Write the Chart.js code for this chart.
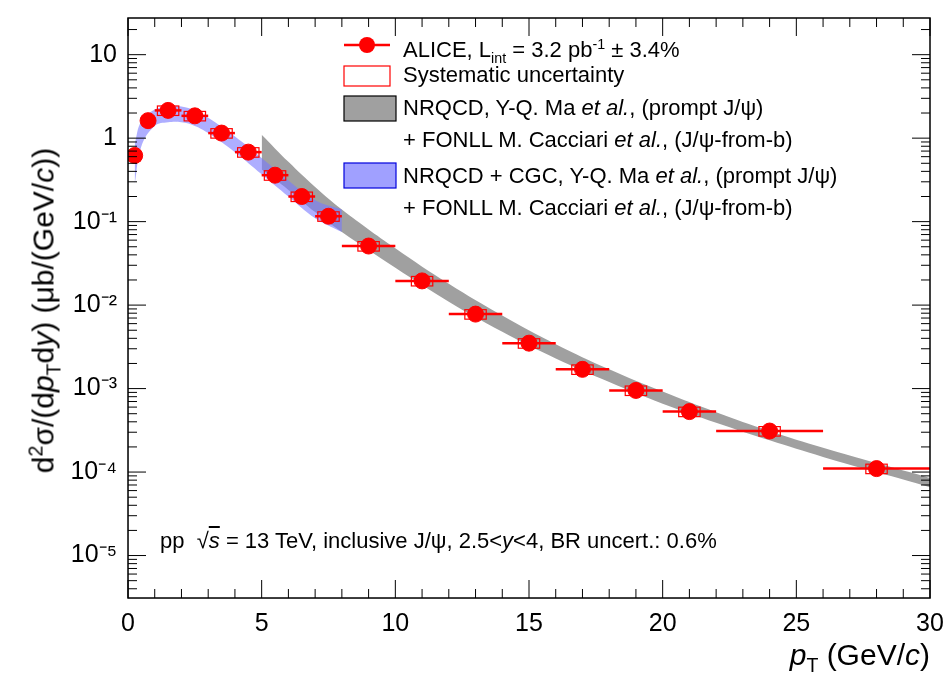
<!DOCTYPE html>
<html><head><meta charset="utf-8">
<script src="https://cdn.jsdelivr.net/npm/chart.js@4"></script>
<style>
body{margin:0;background:#fff;font-family:"Liberation Sans",Arial,sans-serif;}
#wrap{position:relative;width:950px;height:689px;}
.t{position:absolute;white-space:nowrap;color:#000;}
.lg{position:absolute;left:403px;font-size:22px;white-space:nowrap;line-height:26px;}
sub,sup{font-size:65%;}
</style></head><body>
<div id="wrap"><canvas id="c" width="950" height="689"></canvas>
<div class="lg" style="top:31px">ALICE, L<sub>int</sub> = 3.2 pb<sup>-1</sup> ± 3.4%</div>
<div class="lg" style="top:62px">Systematic uncertainty</div>
<div class="lg" style="top:95px">NRQCD, Y-Q. Ma <i>et al.</i>, (prompt J/ψ)</div>
<div class="lg" style="top:127px">+ FONLL M. Cacciari <i>et al.</i>, (J/ψ-from-b)</div>
<div class="lg" style="top:163px">NRQCD + CGC, Y-Q. Ma <i>et al.</i>, (prompt J/ψ)</div>
<div class="lg" style="top:195px">+ FONLL M. Cacciari <i>et al.</i>, (J/ψ-from-b)</div>
<div class="t" style="left:160px;top:528px;font-size:22px">pp &nbsp;√<span style="text-decoration:overline"><i>s</i></span> = 13 TeV, inclusive J/ψ, 2.5&lt;<i>y</i>&lt;4, BR uncert.: 0.6%</div>
<div class="t" style="right:20px;top:638px;font-size:30px"><i>p</i><sub>T</sub> (GeV/<i>c</i>)</div>
<div class="t" style="left:-165px;top:290px;font-size:30px;transform:rotate(-90deg);width:420px;text-align:center">d<sup>2</sup>σ/(d<i>p</i><sub>T</sub>d<i>y</i>) (μb/(GeV/<i>c</i>))</div>
</div>
<script>
const ptLow  = [0,0.5,1,2,3,4,5,6,7,8,10,12,14,16,18,20,22,26];
const ptHigh = [0.5,1,2,3,4,5,6,7,8,10,12,14,16,18,20,22,26,30];
const ptMid  = [0.25,0.75,1.5,2.5,3.5,4.5,5.5,6.5,7.5,9,11,13,15,17,19,21,24,28];
const xsec   = [0.62,1.62,2.15,1.85,1.15,0.68,0.36,0.20,0.116,0.051,0.0195,0.0078,0.0035,0.0017,0.00095,0.00053,0.00031,0.00011];
const sysRel = [0.14,0.13,0.13,0.13,0.13,0.13,0.13,0.13,0.13,0.13,0.13,0.13,0.13,0.13,0.13,0.13,0.13,0.13];
const nrqcdX  = [5,6,7,8,10,12,14,16,18,20,22,24,26,28,30];
const nrqcdLo = [0.42,0.24,0.13,0.075,0.028,0.011,0.0048,0.0023,0.0012,0.00066,0.00039,0.00024,0.000152,0.0001,0.000066];
const nrqcdHi = [1.1,0.52,0.26,0.14,0.048,0.018,0.0075,0.0034,0.0017,0.00092,0.00052,0.00031,0.000195,0.000128,0.000085];
const cgcX  = [0.25,0.5,1,1.5,2,2.5,3,4,5,6,7,8];
const cgcLo = [0.28,0.8,1.4,1.55,1.55,1.4,1.15,0.68,0.37,0.2,0.11,0.075];
const cgcHi = [0.85,1.6,2.2,2.4,2.4,2.15,1.75,1.05,0.58,0.31,0.18,0.14];
const yTicks = [1e-5,1e-4,1e-3,1e-2,1e-1,1,10];
const yTickLabels = ['10⁻⁵','10⁻⁴','10⁻³','10⁻²','10⁻¹','1','10'];

const pts = (xs, ys) => xs.map((x, i) => ({x: x, y: ys[i]}));
const red = 'rgb(255,0,0)';

const extras = {
  id: 'extras',
  afterDatasetsDraw(chart) {
    const {ctx, scales: {x, y}, chartArea: a} = chart;
    ctx.save();
    // systematic boxes
    ctx.strokeStyle = red; ctx.lineWidth = 1.2;
    ptMid.forEach((m, i) => {
      const w = Math.min(0.4, (ptHigh[i]-ptLow[i])/2*0.85);
      const x0 = x.getPixelForValue(m-w), x1 = x.getPixelForValue(m+w);
      const y0 = y.getPixelForValue(xsec[i]*(1+sysRel[i])), y1 = y.getPixelForValue(xsec[i]*(1-sysRel[i]));
      ctx.strokeRect(x0, y0, x1-x0, y1-y0);
    });
    // x error bars
    ctx.lineWidth = 2.5;
    ptMid.forEach((m, i) => {
      const py = y.getPixelForValue(xsec[i]);
      ctx.beginPath();
      ctx.moveTo(x.getPixelForValue(ptLow[i]), py);
      ctx.lineTo(x.getPixelForValue(ptHigh[i]), py);
      ctx.stroke();
    });
    // frame and ticks
    ctx.strokeStyle = '#000'; ctx.lineWidth = 1.5;
    ctx.strokeRect(a.left, a.top, a.right-a.left, a.bottom-a.top);
    ctx.lineWidth = 1;
    for (let v = 0; v <= 30; v += 1) {
      const px = x.getPixelForValue(v), len = v % 5 === 0 ? 18 : 9;
      ctx.beginPath();
      ctx.moveTo(px, a.bottom); ctx.lineTo(px, a.bottom-len);
      ctx.moveTo(px, a.top); ctx.lineTo(px, a.top+len);
      ctx.stroke();
    }
    for (let e = -6; e <= 1; e++) {
      for (let k = 1; k <= 9; k++) {
        const v = k*Math.pow(10, e);
        if (v < y.min || v > y.max) continue;
        const py = y.getPixelForValue(v), len = k === 1 ? 18 : 9;
        ctx.beginPath();
        ctx.moveTo(a.left, py); ctx.lineTo(a.left+len, py);
        ctx.moveTo(a.right, py); ctx.lineTo(a.right-len, py);
        ctx.stroke();
      }
    }
    // legend symbols
    const lx = 367;
    ctx.strokeStyle = red; ctx.fillStyle = red; ctx.lineWidth = 2.5;
    ctx.beginPath(); ctx.moveTo(lx-23, 45); ctx.lineTo(lx+23, 45); ctx.stroke();
    ctx.beginPath(); ctx.arc(lx, 45, 8, 0, 2*Math.PI); ctx.fill();
    ctx.lineWidth = 1.2; ctx.strokeRect(lx-23, 66, 46, 20);
    ctx.fillStyle = 'rgb(160,160,160)'; ctx.strokeStyle = '#000';
    ctx.fillRect(lx-23, 96, 52, 25); ctx.strokeRect(lx-23, 96, 52, 25);
    ctx.fillStyle = 'rgb(160,160,255)'; ctx.strokeStyle = 'rgb(0,0,220)';
    ctx.fillRect(lx-23, 163, 52, 25); ctx.strokeRect(lx-23, 163, 52, 25);
    ctx.restore();
  }
};

new Chart(document.getElementById('c'), {
  type: 'scatter',
  data: { datasets: [
    {data: pts(ptMid, xsec), backgroundColor: red, borderColor: red, pointRadius: 8, pointHoverRadius: 8, order: 0},
    {type: 'line', data: pts(nrqcdX, nrqcdLo), borderWidth: 0, pointRadius: 0, tension: 0.4, fill: false, order: 2},
    {type: 'line', data: pts(nrqcdX, nrqcdHi), borderWidth: 0, pointRadius: 0, tension: 0.4, fill: '-1', backgroundColor: 'rgb(160,160,160)', order: 2},
    {type: 'line', data: pts(cgcX, cgcLo), borderWidth: 0, pointRadius: 0, tension: 0.4, fill: false, order: 1},
    {type: 'line', data: pts(cgcX, cgcHi), borderWidth: 0, pointRadius: 0, tension: 0.4, fill: '-1', backgroundColor: 'rgba(120,120,255,0.6)', order: 1}
  ]},
  options: {
    responsive: false, animation: false,
    layout: {padding: {top: 15, right: 20}},
    plugins: {legend: {display: false}, tooltip: {enabled: false}},
    scales: {
      x: {type: 'linear', min: 0, max: 30, grid: {display: false},
          ticks: {stepSize: 5, color: '#000', font: {size: 25, family: 'Liberation Sans'}},
          afterFit: s => { s.height = 91; }},
      y: {type: 'logarithmic', min: 3.1e-6, max: 27.5, grid: {display: false},
          afterBuildTicks: s => { s.ticks = yTicks.map(v => ({value: v})); },
          ticks: {color: '#000', font: {size: 25, family: 'Liberation Sans'},
                  callback: v => yTickLabels[yTicks.indexOf(v)] ?? ''},
          afterFit: s => { s.width = 128; }}
    }
  },
  plugins: [extras]
});
</script></body></html>
